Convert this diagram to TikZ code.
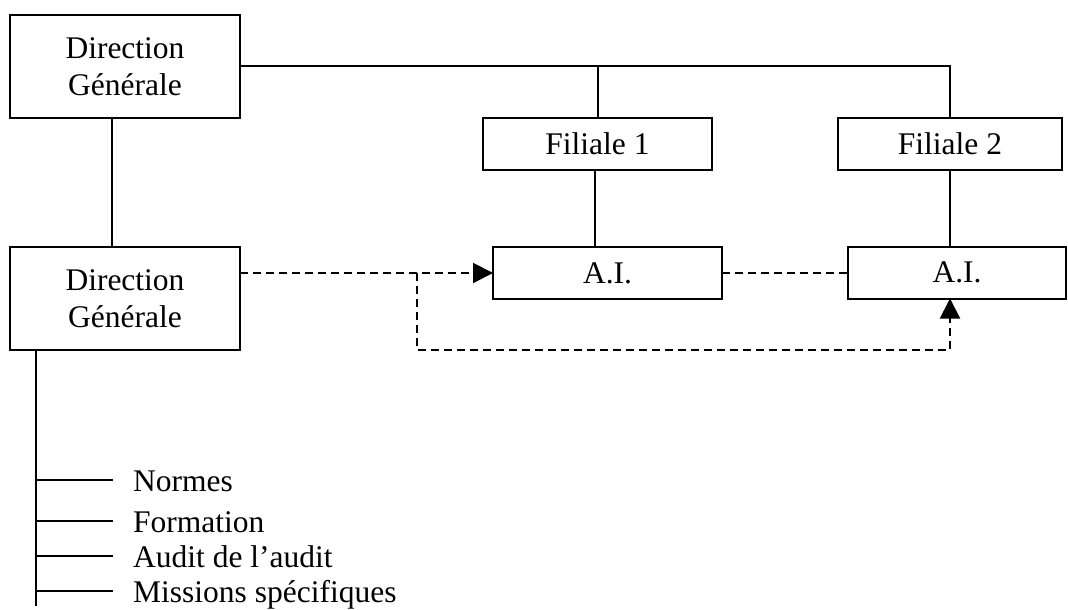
\documentclass[tikz,border=0pt]{standalone}
\usepackage{fontspec}
\setmainfont{Liberation Serif}
\usetikzlibrary{arrows.meta,calc}
\begin{document}
\begin{tikzpicture}[x=1pt,y=-1pt,
  every node/.style={font=\fontsize{31.5}{37}\selectfont},
  box/.style={draw,line width=2pt,inner sep=0pt,outer sep=0pt,align=center},
  link/.style={line width=2pt},
  dlink/.style={line width=2pt,dash pattern=on 8pt off 5pt},
  tip/.style={-{Triangle[length=20pt,width=20pt]}},
  item/.style={anchor=base west,inner sep=0pt}]
\useasboundingbox (0,0) rectangle (1068,610);
% boxes
\node[box,minimum width=230,minimum height=103] (dg1) at (125,66.5) {Direction\\Générale};
\node[box,minimum width=230,minimum height=103] (dg2) at (125,298.5) {Direction\\Générale};
\node[box,minimum width=229,minimum height=52] (f1) at (597.5,144) {Filiale 1};
\node[box,minimum width=224,minimum height=52] (f2) at (950,144) {Filiale 2};
\node[box,minimum width=229,minimum height=52] (ai1) at (607.5,273) {A.I.};
\node[box,minimum width=218,minimum height=52] (ai2) at (957,272.5) {A.I.};
% solid links
\draw[link] (dg1.east) -- (dg1.east -| f2.north) -- (f2.north);
\draw[link] (f1.north |- dg1.east) -- (f1.north);
\draw[link] ([xshift=-13pt]dg1.south) -- ([xshift=-13pt]dg1.south |- dg2.north);
\draw[link] ([xshift=-2.5pt]f1.south) -- ([xshift=-2.5pt]f1.south |- ai1.north);
\draw[link] (f2.south) -- (f2.south |- ai2.north);
% dashed links
\coordinate (split) at (417,273);
\coordinate (low) at (417,350);
\draw[dlink,tip] (dg2.east |- ai1.west) -- (ai1.west);
\draw[dlink] (ai1.east) -- (ai1.east -| ai2.west);
\draw[dlink,tip] (split) -- (low) -- (low -| f2.south) -- (f2.south |- ai2.south);
% list
\coordinate (vtop) at (36,350);
\coordinate (vbot) at (36,606);
\draw[link] (vtop) -- (vbot);
\foreach \y/\t/\n in {480/Normes/n1, 521/Formation/n2, 556/{Audit de l’audit}/n3, 591/{Missions spécifiques}/n4}{
  \coordinate (t\n) at (36,\y);
  \node[item] (\n) at (133,\y+11) {\t};
  \draw[link] (t\n) -- ([xshift=-20pt]\n.base west |- t\n);
}
\end{tikzpicture}
\end{document}
